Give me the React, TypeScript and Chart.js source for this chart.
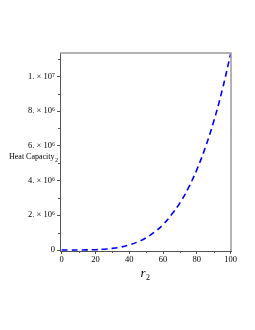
import React, { useEffect, useRef } from "react";
import { Chart, registerables } from "chart.js";

Chart.register(...registerables);

const rValues = [0, 5, 10, 15, 20, 25, 30, 35, 40, 45, 50, 55, 60, 65, 70, 75, 80, 85, 90, 95, 100];
const heatCapacity = [0, 70, 1100, 5700, 18000, 44000, 92000, 170000, 290000, 465000, 705000, 1035000, 1465000, 2040000, 2715000, 3575000, 4630000, 5900000, 7410000, 9200000, 11300000];
const yTickValues = [0, 2000000, 4000000, 6000000, 8000000, 10000000];
const yTickLabels = ["0", "2. × 10⁶", "4. × 10⁶", "6. × 10⁶", "8. × 10⁶", "1. × 10⁷"];
const xTickValues = [0, 20, 40, 60, 80, 100];
const yMinorValues = [1000000, 3000000, 5000000, 7000000, 9000000, 11000000];
const xMinorValues = [10, 30, 50, 70, 90];
const yTitle = "Heat Capacity";
const xTitle = "r";

const SERIF = "'Liberation Serif', 'DejaVu Serif', serif";

export default function App() {
  const ref = useRef<HTMLCanvasElement | null>(null);
  useEffect(() => {
    document.body.style.margin = "0";
    const canvas = ref.current!;
    const framePlugin = {
      id: "frame",
      afterDraw(chart: any) {
        const ctx = chart.ctx;
        const a = chart.chartArea;
        const xs = chart.scales.x;
        const ys = chart.scales.y;
        ctx.save();
        // top and right border
        ctx.strokeStyle = "#9a9a9a";
        ctx.lineWidth = 1.5;
        ctx.beginPath();
        ctx.moveTo(a.left, a.top);
        ctx.lineTo(a.right, a.top);
        ctx.lineTo(a.right, a.bottom);
        ctx.stroke();
        // minor ticks
        ctx.strokeStyle = "#555";
        ctx.lineWidth = 1;
        ctx.beginPath();
        for (const v of yMinorValues) {
          const y = Math.round(ys.getPixelForValue(v)) + 0.5;
          ctx.moveTo(a.left - 2, y);
          ctx.lineTo(a.left, y);
        }
        for (const v of xMinorValues) {
          const x = Math.round(xs.getPixelForValue(v)) + 0.5;
          ctx.moveTo(x, a.bottom);
          ctx.lineTo(x, a.bottom + 2);
        }
        ctx.stroke();
        // titles
        ctx.fillStyle = "#000";
        ctx.font = `8px ${SERIF}`;
        ctx.textBaseline = "alphabetic";
        ctx.textAlign = "left";
        const tx = 9;
        const ty = 159;
        ctx.fillText(yTitle, tx, ty);
        const w = ctx.measureText(yTitle).width;
        ctx.font = `6px ${SERIF}`;
        ctx.fillText("2", tx + w + 0.5, ty + 3);
        ctx.font = `italic 13px ${SERIF}`;
        const cx = (a.left + a.right) / 2;
        ctx.fillText(xTitle, cx - 5, 277);
        const rw = ctx.measureText(xTitle).width;
        ctx.font = `8px ${SERIF}`;
        ctx.fillText("2", cx - 5 + rw + 0.5, 280);
        ctx.restore();
      },
    };
    const chart = new Chart(canvas, {
      type: "line",
      data: {
        labels: rValues,
        datasets: [
          {
            data: rValues.map((r, i) => ({ x: r, y: heatCapacity[i] })),
            borderColor: "#0000ff",
            borderWidth: 1.6,
            borderDash: [6, 4],
            pointRadius: 0,
            tension: 0.4,
            fill: false,
          },
        ],
      },
      options: {
        animation: false,
        responsive: false,
        maintainAspectRatio: false,
        layout: { padding: { left: 0, top: 53, right: 24, bottom: 0 } },
        plugins: { legend: { display: false }, tooltip: { enabled: false } },
        scales: {
          x: {
            type: "linear",
            min: -1,
            max: 100.2,
            afterBuildTicks: (s: any) => {
              s.ticks = xTickValues.map((v) => ({ value: v }));
            },
            afterFit: (s: any) => {
              s.height = 79;
            },
            ticks: {
              color: "#000",
              font: { family: SERIF, size: 8.5 },
              padding: 1,
              maxRotation: 0,
              callback: (v: any) => String(v),
            },
            grid: { drawOnChartArea: false, tickLength: 3, color: "#555" },
            border: { color: "#555", width: 1 },
          },
          y: {
            type: "linear",
            min: -57000,
            max: 11340000,
            afterBuildTicks: (s: any) => {
              s.ticks = yTickValues.map((v) => ({ value: v }));
            },
            afterFit: (s: any) => {
              s.width = 60;
            },
            ticks: {
              color: "#000",
              font: { family: SERIF, size: 8.5 },
              padding: 2,
              callback: (v: any) => {
                const i = yTickValues.indexOf(Number(v));
                return i >= 0 ? yTickLabels[i] : "";
              },
            },
            grid: { drawOnChartArea: false, tickLength: 3, color: "#555" },
            border: { color: "#555", width: 1 },
          },
        },
      },
      plugins: [framePlugin],
    });
    return () => chart.destroy();
  }, []);
  return <canvas ref={ref} width={255} height={330} style={{ display: "block" }} />;
}
